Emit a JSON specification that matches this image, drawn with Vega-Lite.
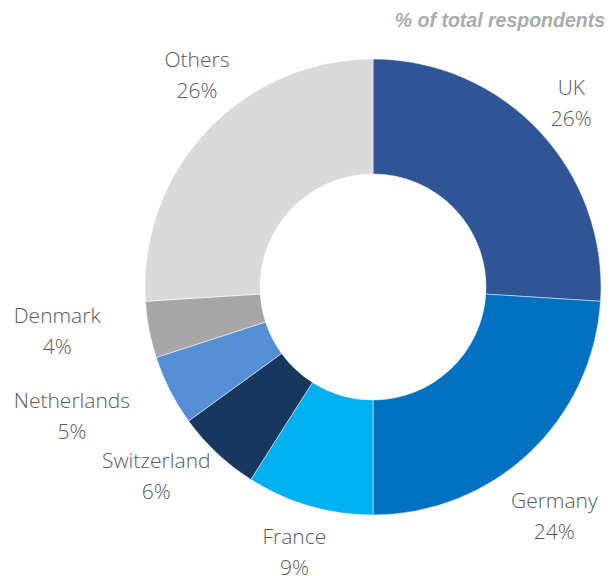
{
  "$schema": "https://vega.github.io/schema/vega-lite/v6.json",
  "width": 456,
  "height": 456,
  "autosize": {"type": "none"},
  "padding": {"left": 145, "top": 59, "right": 13, "bottom": 61},
  "background": "white",
  "config": {"view": {"stroke": null}},
  "title": {
    "text": "% of total respondents",
    "anchor": "end",
    "frame": "group",
    "font": "Liberation Sans",
    "fontStyle": "italic",
    "fontWeight": "bold",
    "fontSize": 19.5,
    "color": "#ABABAB",
    "offset": 6,
    "dy": 16,
    "dx": 4
  },
  "data": {
    "values": [
      {"country": "UK", "pct": 26, "rank": 1, "label": ["UK", "26%"]},
      {"country": "Germany", "pct": 24, "rank": 2, "label": ["Germany", "24%"]},
      {"country": "France", "pct": 9, "rank": 3, "label": ["France", "9%"]},
      {"country": "Switzerland", "pct": 6, "rank": 4, "label": ["Switzerland", "6%"]},
      {"country": "Netherlands", "pct": 5, "rank": 5, "label": ["Netherlands", "5%"]},
      {"country": "Denmark", "pct": 4, "rank": 6, "label": ["Denmark", "4%"]},
      {"country": "Others", "pct": 26, "rank": 7, "label": ["Others", "26%"]}
    ]
  },
  "encoding": {
    "theta": {"field": "pct", "type": "quantitative", "stack": true},
    "order": {"field": "rank", "type": "quantitative"}
  },
  "layer": [
    {
      "mark": {"type": "arc", "innerRadius": 113, "outerRadius": 228, "stroke": "white", "strokeWidth": 0.5},
      "encoding": {
        "color": {
          "field": "country",
          "type": "nominal",
          "scale": {
            "domain": ["UK", "Germany", "France", "Switzerland", "Netherlands", "Denmark", "Others"],
            "range": ["#2F5597", "#0070C0", "#00B0F0", "#17375E", "#558ED5", "#A6A6A6", "#D9D9D9"]
          },
          "legend": null
        }
      }
    },
    {
      "mark": {"type": "text", "radius": 270, "thetaOffset": 0.008, "dy": -15, "font": "Open Sans", "fontWeight": 300, "fontSize": 21, "lineHeight": 31, "fill": "#595959", "align": "center", "baseline": "middle"},
      "encoding": {"text": {"condition": {"test": "datum.country === 'UK'", "field": "label"}, "value": ""}}
    },
    {
      "mark": {"type": "text", "radius": 293, "thetaOffset": 0.087, "dy": -15, "font": "Open Sans", "fontWeight": 300, "fontSize": 21, "lineHeight": 31, "fill": "#595959", "align": "center", "baseline": "middle"},
      "encoding": {"text": {"condition": {"test": "datum.country === 'Germany'", "field": "label"}, "value": ""}}
    },
    {
      "mark": {"type": "text", "radius": 277, "thetaOffset": 0.005, "dy": -15, "font": "Open Sans", "fontWeight": 300, "fontSize": 21, "lineHeight": 31, "fill": "#595959", "align": "center", "baseline": "middle"},
      "encoding": {"text": {"condition": {"test": "datum.country === 'France'", "field": "label"}, "value": ""}}
    },
    {
      "mark": {"type": "text", "radius": 288, "thetaOffset": 0.098, "dy": -15, "font": "Open Sans", "fontWeight": 300, "fontSize": 21, "lineHeight": 31, "fill": "#595959", "align": "center", "baseline": "middle"},
      "encoding": {"text": {"condition": {"test": "datum.country === 'Switzerland'", "field": "label"}, "value": ""}}
    },
    {
      "mark": {"type": "text", "radius": 328, "thetaOffset": 0.063, "dy": -15, "font": "Open Sans", "fontWeight": 300, "fontSize": 21, "lineHeight": 31, "fill": "#595959", "align": "center", "baseline": "middle"},
      "encoding": {"text": {"condition": {"test": "datum.country === 'Netherlands'", "field": "label"}, "value": ""}}
    },
    {
      "mark": {"type": "text", "radius": 319, "thetaOffset": 0.047, "dy": -15, "font": "Open Sans", "fontWeight": 300, "fontSize": 21, "lineHeight": 31, "fill": "#595959", "align": "center", "baseline": "middle"},
      "encoding": {"text": {"condition": {"test": "datum.country === 'Denmark'", "field": "label"}, "value": ""}}
    },
    {
      "mark": {"type": "text", "radius": 275, "thetaOffset": 0.122, "dy": -15, "font": "Open Sans", "fontWeight": 300, "fontSize": 21, "lineHeight": 31, "fill": "#595959", "align": "center", "baseline": "middle"},
      "encoding": {"text": {"condition": {"test": "datum.country === 'Others'", "field": "label"}, "value": ""}}
    }
  ]
}
